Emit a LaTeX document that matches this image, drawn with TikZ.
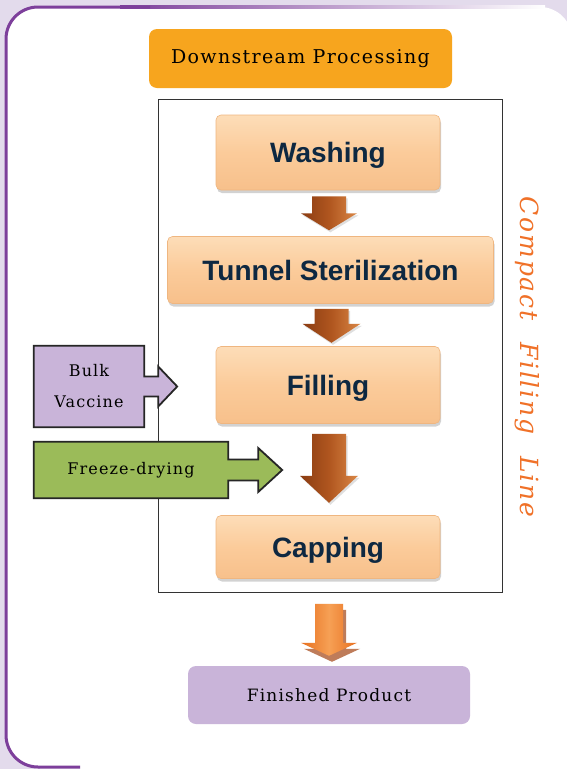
\documentclass[tikz,border=0pt]{standalone}
\usepackage{fontspec}
\setsansfont{Liberation Sans}
\newfontfamily\slabfont[LetterSpace=7]{DejaVu Serif}
\usetikzlibrary{shadows,calc}

\definecolor{bgc}{HTML}{E3DBEC}
\definecolor{framec}{HTML}{7D3F9B}
\definecolor{headc}{HTML}{F7A51E}
\definecolor{peachtop}{HTML}{FDDDB8}
\definecolor{peach}{HTML}{FBCB9A}
\definecolor{peachbot}{HTML}{F7C08B}
\definecolor{navy}{HTML}{0E2841}
\definecolor{lilac}{HTML}{C9B4D9}
\definecolor{grass}{HTML}{9BBB59}
\definecolor{brownd}{HTML}{8A3C12}
\definecolor{brownm}{HTML}{B0561F}
\definecolor{brownl}{HTML}{DA8746}
\definecolor{flamed}{HTML}{E8701F}
\definecolor{flamel}{HTML}{F6A055}
\definecolor{flameshadow}{HTML}{BE7C5A}
\definecolor{sidec}{HTML}{F07128}

\begin{document}
\begin{tikzpicture}[x=1pt,y=-1pt,
 stepbox/.style={rounded corners=5pt,draw=peachbot!85!brown,line width=0.6pt,
   top color=peachtop,bottom color=peachbot,middle color=peach,
   drop shadow={shadow xshift=1pt,shadow yshift=-3pt,opacity=0.35},
   text=navy,text depth=0pt,font=\sffamily\bfseries\fontsize{28}{30}\selectfont},
 head/.style={rounded corners=8pt,fill=headc,minimum width=303,minimum height=59,
   font=\slabfont\fontsize{19}{22}\selectfont},
 product/.style={rounded corners=8pt,fill=lilac,minimum width=282,minimum height=58,
   font=\slabfont\fontsize{17}{20}\selectfont},
 feed/.style={align=center,inner sep=0pt,font=\slabfont\fontsize{16}{31}\selectfont},
 feedline/.style={draw=black!85,line width=1.8pt,line join=miter},
 boxline/.style={draw=black!80,line width=1pt,minimum width=344,minimum height=493},
 side/.style={rotate=-90,text=sidec,font=\slabfont\itshape\fontsize{25}{28}\selectfont},
 brownarr/.style={left color=brownd,right color=brownl,middle color=brownm,
   drop shadow={shadow xshift=1.5pt,shadow yshift=-2pt,opacity=0.25}},
 flamearr/.style={left color=flamed,right color=flamed,middle color=flamel,
   drop shadow={shadow xshift=3pt,shadow yshift=-6pt,fill=flameshadow,opacity=1}}]
\useasboundingbox (0,0) rectangle (567,769);
% panel
\fill[bgc] (0,0) rectangle (567,769);
\fill[white,rounded corners=32] (6,7) rectangle (572,767);
\fill[white] (40,740) rectangle (567,769);
\shade[left color=framec,right color=white] (120,5.5) rectangle (545,8.5);
\draw[framec,line width=3pt,rounded corners=32] (150,7) -- (6,7) -- (6,767) -- (80,767);

% header and frame
\node[head] (dsp) at (300.5,58.5) {Downstream Processing};
\node[boxline] (line) at (330,345.5) {};

% steps
\node[stepbox,minimum width=224,minimum height=75] (wash) at (328,152.5) {Washing};
\node[stepbox,minimum width=326,minimum height=67] (tunnel) at (330.5,270) {Tunnel Sterilization};
\node[stepbox,minimum width=224,minimum height=77] (fill) at (328,385) {Filling};
\node[stepbox,minimum width=224,minimum height=63] (cap) at (328,547) {Capping};
\node[product] (prod) at (329,695) {Finished Product};

% block arrows
\shade[brownarr] ($(wash.south)+(-16,6)$) -- ++(34,0) -- ++(0,17) -- ++(11,0)
  -- ++(-28,17) -- ++(-28,-17) -- ++(11,0) -- cycle;
\shade[brownarr] ($(tunnel.south)+(-16,5)$) -- ++(34,0) -- ++(0,15) -- ++(12,0)
  -- ++(-29,19) -- ++(-29,-19) -- ++(12,0) -- cycle;
\shade[brownarr] ($(fill.south)+(-16,10)$) -- ++(34,0) -- ++(0,42) -- ++(12,0)
  -- ++(-29,27) -- ++(-29,-27) -- ++(12,0) -- cycle;
\shade[flamearr] ($(cap.south)+(-13,25)$) -- ++(28,0) -- ++(0,39) -- ++(14,0)
  -- ++(-28,13) -- ++(-28,-13) -- ++(14,0) -- cycle;

% inputs
\node[feed,fill=lilac,minimum width=110,minimum height=81] (bulk) at (89,386.5) {Bulk\\Vaccine};
\fill[lilac] ($(bulk.east)+(0,-10)$) -- ++(14,0) -- ++(0,-10) -- ++(19,20) -- ++(-19,20)
  -- ++(0,-10) -- ++(-14,0) -- cycle;
\draw[feedline] (bulk.north west) -- (bulk.north east) -- ($(bulk.east)+(0,-10)$) -- ++(14,0)
  -- ++(0,-10) -- ++(19,20) -- ++(-19,20) -- ++(0,-10) -- ++(-14,0) -- (bulk.south east)
  -- (bulk.south west) -- cycle;
\node[feed,fill=grass,minimum width=194,minimum height=56] (freeze) at (131,470) {Freeze-drying};
\fill[grass] ($(freeze.east)+(0,-10.5)$) -- ++(30,0) -- ++(0,-11.5) -- ++(24,22) -- ++(-24,22)
  -- ++(0,-11.5) -- ++(-30,0) -- cycle;
\draw[feedline] (freeze.north west) -- (freeze.north east) -- ($(freeze.east)+(0,-10.5)$) -- ++(30,0)
  -- ++(0,-11.5) -- ++(24,22) -- ++(-24,22) -- ++(0,-11.5) -- ++(-30,0) -- (freeze.south east)
  -- (freeze.south west) -- cycle;

% side label
\node[side] (cfl) at (527,357) {Compact\hspace{22pt}Filling\hspace{22pt}Line};
\end{tikzpicture}
\end{document}
